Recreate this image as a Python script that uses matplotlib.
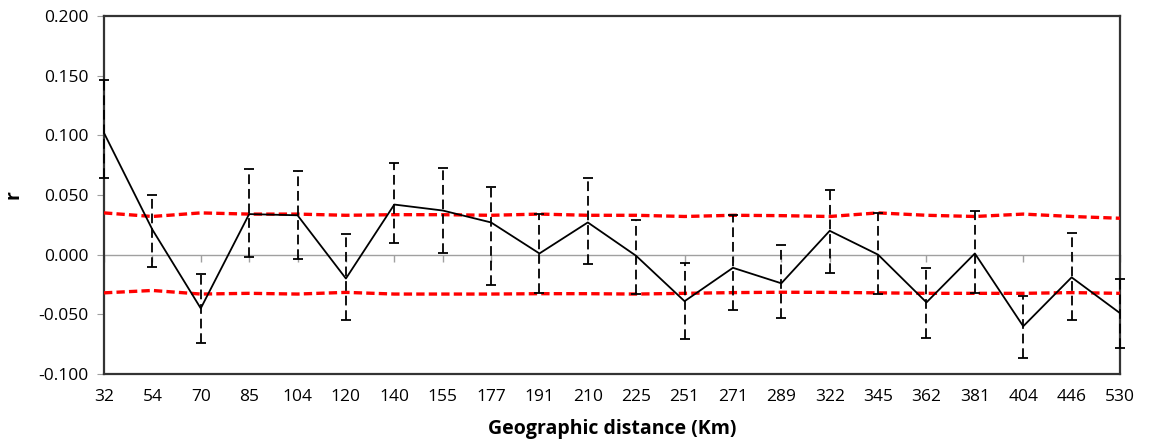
import matplotlib
matplotlib.use("Agg")
import matplotlib.pyplot as plt
import numpy as np
from matplotlib.ticker import FixedLocator, FuncFormatter

plt.rcParams['font.family'] = ['Open Sans', 'DejaVu Sans']
plt.rcParams['lines.scale_dashes'] = False

distances = ["32", "54", "70", "85", "104", "120", "140", "155", "177", "191", "210",
             "225", "251", "271", "289", "322", "345", "362", "381", "404", "446", "530"]
r_values = [0.102, 0.021, -0.045, 0.034, 0.033, -0.020, 0.042, 0.037, 0.027, 0.001, 0.027,
            -0.001, -0.039, -0.011, -0.024, 0.020, 0.000, -0.040, 0.001, -0.060, -0.019, -0.049]
ci_upper = [0.146, 0.050, -0.016, 0.072, 0.070, 0.017, 0.077, 0.073, 0.057, 0.034, 0.064,
            0.029, -0.007, 0.033, 0.008, 0.054, 0.035, -0.011, 0.037, -0.035, 0.018, -0.020]
ci_lower = [0.064, -0.010, -0.074, -0.002, -0.004, -0.055, 0.010, 0.001, -0.025, -0.032, -0.008,
            -0.033, -0.071, -0.046, -0.053, -0.015, -0.033, -0.070, -0.032, -0.087, -0.055, -0.078]
perm_upper = [0.035, 0.032, 0.035, 0.034, 0.034, 0.033, 0.0335, 0.0335, 0.033, 0.034, 0.033,
              0.033, 0.032, 0.033, 0.0327, 0.032, 0.035, 0.033, 0.032, 0.034, 0.032, 0.0305]
perm_lower = [-0.032, -0.030, -0.033, -0.0324, -0.033, -0.0316, -0.033, -0.033, -0.033, -0.0327, -0.0327,
              -0.033, -0.0324, -0.0318, -0.0315, -0.0316, -0.032, -0.0324, -0.0324, -0.0324, -0.0318, -0.0324]

x = np.arange(len(distances))
r = np.array(r_values)
yerr = np.vstack([r - np.array(ci_lower), np.array(ci_upper) - r])

fig = plt.figure(figsize=(11.52, 4.46), dpi=100)
ax = fig.add_axes([104/1152, 1 - 374/446, (1120 - 104)/1152, (374 - 16)/446])

# zero axis line with ticks
sec = ax.secondary_xaxis(1/3)
sec.spines['bottom'].set_color('#a0a0a0')
sec.spines['bottom'].set_linewidth(1.0)
sec.xaxis.set_major_locator(FixedLocator(x))
sec.tick_params(axis='x', direction='out', length=5, color='#a0a0a0', labelbottom=False, width=1.0)

ax.plot(x, perm_upper, color='#ff0000', lw=2.4, dashes=(6, 3), zorder=3)
ax.plot(x, perm_lower, color='#ff0000', lw=2.4, dashes=(6, 3), zorder=3)

line, caps, bars = ax.errorbar(x, r, yerr=yerr, color='black', lw=1.3, elinewidth=1.3,
                               capsize=3.6, capthick=1.3, ecolor='black', zorder=4, clip_on=False)
bars[0].set_linestyle((0, (7, 3.5)))
line.set_clip_on(True)

ax.set_xlim(0, len(distances) - 1)
ax.set_ylim(-0.1, 0.2)
ax.set_yticks(np.arange(-0.1, 0.2001, 0.05))
ax.yaxis.set_major_formatter(FuncFormatter(lambda v, p: f"{v:.3f}"))
ax.set_xticks(x)
ax.set_xticklabels(distances)
ax.tick_params(axis='x', length=0, labelsize=12.5, pad=11, colors='black')
ax.tick_params(axis='y', direction='out', length=5, color='#a0a0a0', labelsize=12.5, pad=6)

for s in ax.spines.values():
    s.set_color('#333333')
    s.set_linewidth(1.6)

ax.set_xlabel("Geographic distance (Km)", fontsize=14, fontweight='bold', labelpad=10)
ax.set_ylabel("r", fontsize=14, fontweight='bold')
ax.yaxis.set_label_coords(-0.079, 0.5)

fig.savefig("out.png", dpi=100)
